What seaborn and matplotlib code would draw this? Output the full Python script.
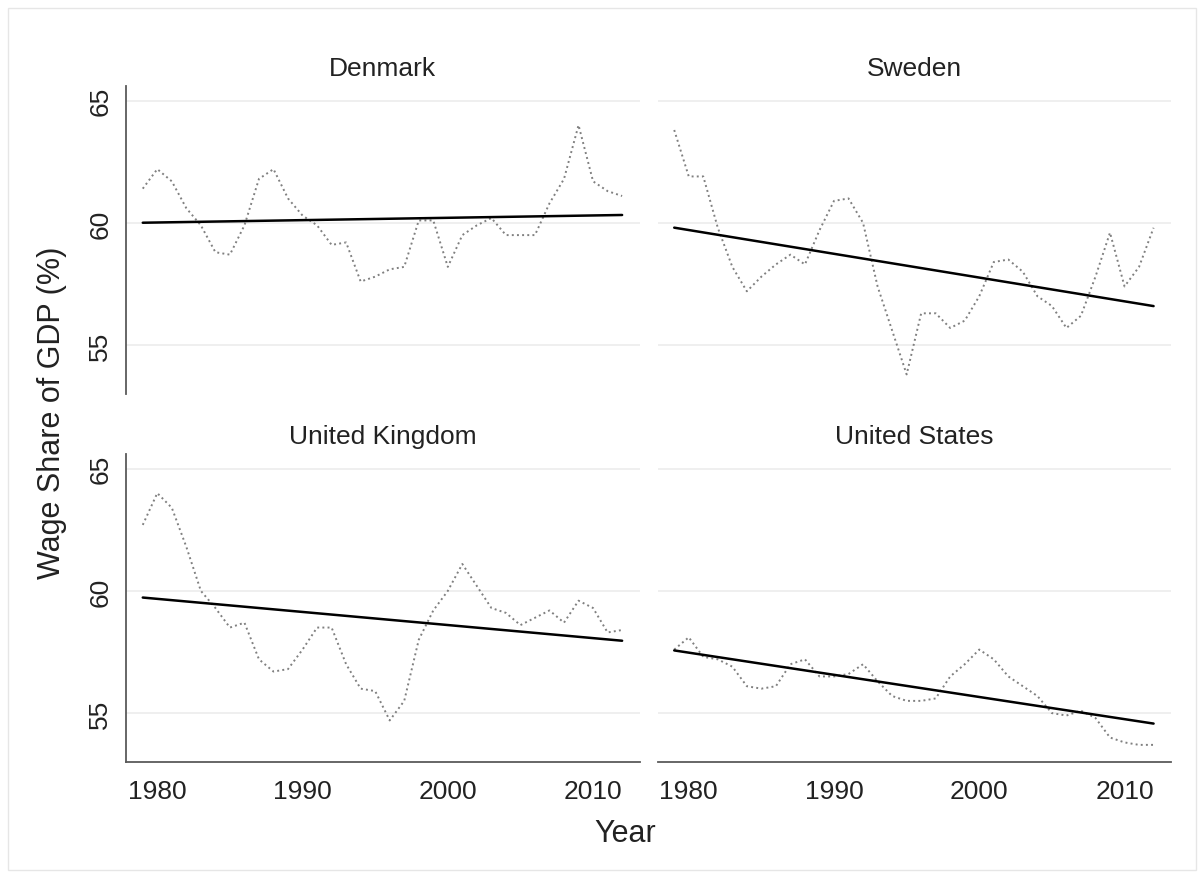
import numpy as np
import pandas as pd
import seaborn as sns
import matplotlib.pyplot as plt
from matplotlib.patches import Rectangle

years = list(range(1979, 2013))

denmark = [61.4, 62.2, 61.7, 60.6, 59.9, 58.8, 58.7, 59.9, 61.8, 62.2,
           61.0, 60.3, 59.9, 59.1, 59.2, 57.6, 57.8, 58.1, 58.2, 60.1,
           60.1, 58.2, 59.5, 59.9, 60.2, 59.5, 59.5, 59.5, 60.8, 61.8,
           64.0, 61.7, 61.3, 61.1]
sweden = [63.8, 61.9, 61.9, 59.8, 58.2, 57.2, 57.8, 58.3, 58.7, 58.3,
          59.7, 60.9, 61.0, 60.0, 57.4, 55.6, 53.8, 56.3, 56.3, 55.7,
          56.0, 57.0, 58.4, 58.5, 58.0, 57.0, 56.6, 55.7, 56.2, 57.8,
          59.6, 57.4, 58.2, 59.8]
uk = [62.7, 64.0, 63.4, 61.8, 60.0, 59.3, 58.5, 58.7, 57.2, 56.7,
      56.8, 57.6, 58.5, 58.5, 57.0, 56.0, 55.9, 54.7, 55.5, 58.0,
      59.2, 60.0, 61.1, 60.2, 59.3, 59.1, 58.6, 58.9, 59.2, 58.7,
      59.6, 59.3, 58.3, 58.4]
us = [57.6, 58.1, 57.3, 57.2, 56.9, 56.1, 56.0, 56.1, 57.0, 57.2,
      56.5, 56.5, 56.6, 57.0, 56.3, 55.7, 55.5, 55.5, 55.6, 56.5,
      57.0, 57.6, 57.2, 56.5, 56.1, 55.7, 55.0, 54.9, 55.1, 54.8,
      54.0, 53.8, 53.7, 53.7]

countries = ["Denmark", "Sweden", "United Kingdom", "United States"]
series = [denmark, sweden, uk, us]
xticks = [1980, 1990, 2000, 2010]
yticks = [55, 60, 65]

sns.set_style("white")
plt.rcParams["font.family"] = ["Liberation Sans", "DejaVu Sans"]

fig, axes = plt.subplots(2, 2, figsize=(12.04, 8.78), dpi=100, sharex=True, sharey=True)
fig.subplots_adjust(left=0.1047, right=0.9726, top=0.9009, bottom=0.131,
                    wspace=0.035, hspace=0.195)

axis_col = "#5a5a5a"
for i, ax in enumerate(axes.flat):
    df = pd.DataFrame({"Year": years, "Share": series[i]})
    ax.set_axisbelow(True)
    for yv in yticks:
        ax.axhline(yv, color="#ececec", lw=1.2, zorder=0)
    sns.lineplot(data=df, x="Year", y="Share", ax=ax, color="#808080",
                 linestyle=":", linewidth=1.4)
    sns.regplot(data=df, x="Year", y="Share", ax=ax, scatter=False, ci=None,
                line_kws={"color": "black", "lw": 1.8}, truncate=True)
    ax.set_title(countries[i], fontsize=19, color="#222222", pad=8)
    ax.set_xlabel("")
    ax.set_ylabel("")
    ax.set_xlim(1977.85, 2013.2)
    ax.set_ylim(53.0, 65.6)
    ax.set_xticks(xticks)
    ax.set_yticks(yticks)
    for s in ["top", "right"]:
        ax.spines[s].set_visible(False)
    ax.spines["left"].set_color(axis_col)
    ax.spines["bottom"].set_color(axis_col)
    ax.spines["left"].set_linewidth(1.3)
    ax.spines["bottom"].set_linewidth(1.3)
    ax.tick_params(axis="both", colors=axis_col, labelcolor="#222222",
                   labelsize=19, length=7, width=1.2, direction="out")
    ax.tick_params(axis="x", pad=5)
    ax.tick_params(axis="y", pad=3)
    for lab in ax.get_yticklabels():
        lab.set_rotation(90)
        lab.set_va("center")
    row, col = divmod(i, 2)
    if row == 0:
        ax.spines["bottom"].set_visible(False)
        ax.tick_params(axis="x", bottom=False, labelbottom=False)
    if col == 1:
        ax.spines["left"].set_visible(False)
        ax.tick_params(axis="y", left=False, labelleft=False)

fig.text(0.519, 0.05, "Year", fontsize=22, ha="center", va="center", color="#222222")
fig.text(0.043, 0.53, "Wage Share of GDP (%)", fontsize=22, rotation=90,
         ha="center", va="center", color="#222222")

fig.patches.append(Rectangle((0.007, 0.008), 0.986, 0.982, transform=fig.transFigure,
                             fill=False, edgecolor="#e6e6e6", lw=1.0))

fig.savefig("out.png", dpi=100, facecolor="white")
